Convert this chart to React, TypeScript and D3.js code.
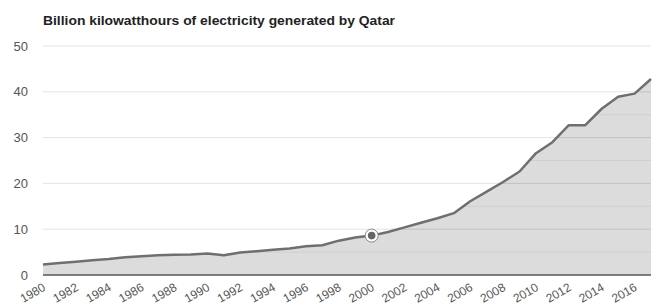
import React from "react";
import * as d3 from "d3";

const title = "Billion kilowatthours of electricity generated by Qatar";
const years = [
  1980, 1981, 1982, 1983, 1984, 1985, 1986, 1987, 1988, 1989,
  1990, 1991, 1992, 1993, 1994, 1995, 1996, 1997, 1998, 1999,
  2000, 2001, 2002, 2003, 2004, 2005, 2006, 2007, 2008, 2009,
  2010, 2011, 2012, 2013, 2014, 2015, 2016, 2017,
];
const values = [
  2.3, 2.6, 2.9, 3.2, 3.5, 3.9, 4.1, 4.3, 4.4, 4.5,
  4.7, 4.3, 4.9, 5.2, 5.5, 5.8, 6.3, 6.5, 7.5, 8.2,
  8.6, 9.4, 10.4, 11.4, 12.4, 13.5, 16.1, 18.2, 20.3, 22.6,
  26.6, 29.0, 32.7, 32.7, 36.3, 38.9, 39.6, 42.8,
];
const yTicks = [0, 10, 20, 30, 40, 50];
const yMinorTicks = [5, 15, 25, 35, 45];
const xTickYears = [1980, 1982, 1984, 1986, 1988, 1990, 1992, 1994, 1996, 1998, 2000, 2002, 2004, 2006, 2008, 2010, 2012, 2014, 2016];
const highlightYear = 2000;

export default function App() {
  const W = 658, H = 306;
  const left = 43, right = 651, top = 46, bottom = 275;
  const x = d3.scaleLinear().domain([1980, 2017]).range([left, right]);
  const y = d3.scaleLinear().domain([0, 50]).range([bottom, top]);
  const data = years.map((yr, i) => ({ yr, v: values[i] }));
  const area = d3.area<{ yr: number; v: number }>().x(d => x(d.yr)).y0(y(0)).y1(d => y(d.v));
  const line = d3.line<{ yr: number; v: number }>().x(d => x(d.yr)).y(d => y(d.v));
  const hi = data.find(d => d.yr === highlightYear)!;
  const font = "'Liberation Sans', Arial, sans-serif";
  return (
    <svg width={W} height={H} style={{ position: "absolute", left: 0, top: 0, background: "#fff" }} fontFamily={font}>
      <defs>
        <clipPath id="areaClip">
          <path d={area(data) || ""} />
        </clipPath>
      </defs>
      <text x={left} y={24.5} fontSize={13} fontWeight="bold" fill="#222" textLength={352} lengthAdjust="spacingAndGlyphs">{title}</text>
      {yTicks.map(t => (
        <g key={t}>
          <line x1={left} x2={right} y1={y(t)} y2={y(t)} stroke="#e4e4e4" strokeWidth={1} />
          <text x={28} y={y(t)} dy="0.36em" textAnchor="end" fontSize={13} fill="#555">{t}</text>
        </g>
      ))}
      <path d={area(data) || ""} fill="#dcdcdc" />
      <g clipPath="url(#areaClip)">
        {yTicks.filter(t => t > 0).map(t => (
          <line key={t} x1={left} x2={right} y1={y(t)} y2={y(t)} stroke="#c2c2c2" strokeWidth={1} />
        ))}
        {yMinorTicks.map(t => (
          <line key={t} x1={left} x2={right} y1={y(t)} y2={y(t)} stroke="#cfcfcf" strokeWidth={1} />
        ))}
      </g>
      <path d={line(data) || ""} fill="none" stroke="#6f6f6f" strokeWidth={2.5} strokeLinejoin="round" />
      <line x1={left} x2={right} y1={y(0)} y2={y(0)} stroke="#5a5a5a" strokeWidth={1.5} />
      {xTickYears.map(yr => (
        <text key={yr} transform={`translate(${x(yr)},${bottom + 9}) rotate(-30)`} textAnchor="end" dy="0.55em" fontSize={12} fill="#555">{yr}</text>
      ))}
      <circle cx={x(hi.yr)} cy={y(hi.v)} r={6.5} fill="#fff" stroke="#8a8a8a" strokeWidth={1} />
      <circle cx={x(hi.yr)} cy={y(hi.v)} r={3.8} fill="#666" />
    </svg>
  );
}
